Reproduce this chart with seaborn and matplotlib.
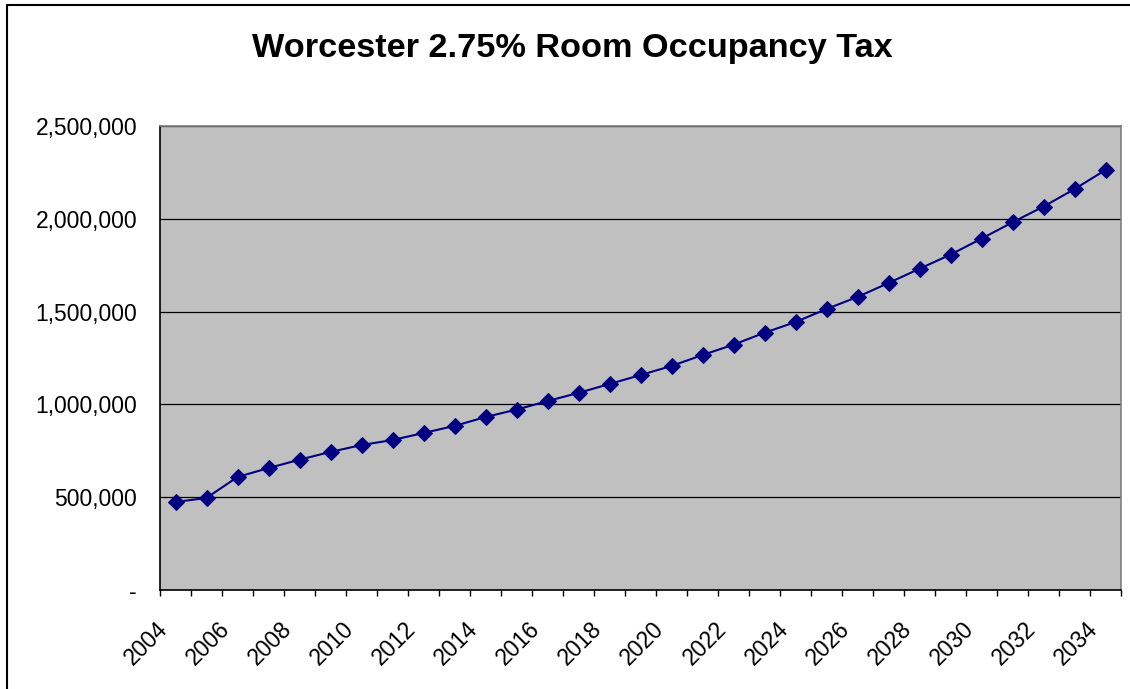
import matplotlib
matplotlib.use('Agg')
import matplotlib.pyplot as plt
import matplotlib.transforms as mtransforms
from matplotlib.ticker import FuncFormatter, MultipleLocator
from matplotlib.patches import Rectangle
import seaborn as sns
import pandas as pd

# Data
years = list(range(2004, 2035))
revenue = [474000, 496000, 609000, 657000, 702000, 744000, 781000, 808000,
           846000, 884000, 932000, 972000, 1018000, 1062000, 1110000, 1158000,
           1207000, 1266000, 1322000, 1386000, 1444000, 1514000, 1579000,
           1654000, 1731000, 1807000, 1893000, 1981000, 2066000, 2160000,
           2263000]
year_labels = [str(y) for y in years if y % 2 == 0]

df = pd.DataFrame({'year': years, 'revenue': revenue})

sns.set_style('white')
plt.rcParams['font.family'] = ['Liberation Sans', 'DejaVu Sans']
plt.rcParams['text.color'] = 'black'
plt.rcParams['xtick.color'] = 'black'
plt.rcParams['ytick.color'] = 'black'

W, H = 1130, 689
fig = plt.figure(figsize=(W / 100, H / 100), dpi=100)
# plot area in pixels: left 160, right 1121, top 126, bottom 590
ax = fig.add_axes([160 / W, 1 - 590 / H, (1121 - 160) / W, (590 - 126) / H])
ax.set_facecolor('#C0C0C0')

sns.lineplot(data=df, x='year', y='revenue', ax=ax, color='#000080',
             marker='D', markersize=8, markeredgecolor='#000080',
             linewidth=1.5, zorder=3)

ax.set_xlim(2003.5, 2034.5)
ax.set_ylim(0, 2500000)

# horizontal gridlines
ax.yaxis.set_major_locator(MultipleLocator(500000))
ax.grid(axis='y', color='black', linewidth=0.9)
ax.grid(axis='x', visible=False)
ax.set_axisbelow(True)

def fmt(v, pos):
    return '-' if v == 0 else f'{int(v):,}'
ax.yaxis.set_major_formatter(FuncFormatter(fmt))
ax.tick_params(axis='y', direction='out', length=4.5, width=1, color='black',
               labelsize=16.5, pad=12)

# year labels at even years, tick marks at category boundaries
ax.set_xticks([int(l) for l in year_labels])
ax.set_xticklabels(year_labels, rotation=45, ha='right', rotation_mode='anchor')
ax.set_xticks([y - 0.5 for y in years] + [2034.5], minor=True)
ax.tick_params(axis='x', which='major', length=0, labelsize=16.5, pad=20)
ax.tick_params(axis='x', which='minor', direction='out', length=4.5, width=1,
               color='black', bottom=True)
shift = mtransforms.ScaledTranslation(-19 / 100, 0, fig.dpi_scale_trans)
for lab in ax.get_xticklabels():
    lab.set_transform(lab.get_transform() + shift)

for side in ['left', 'bottom']:
    ax.spines[side].set_color('black')
    ax.spines[side].set_linewidth(1.2)
for side in ['top', 'right']:
    ax.spines[side].set_color('#808080')
    ax.spines[side].set_linewidth(1.2)

ax.set_xlabel('')
ax.set_ylabel('')

fig.text(572 / W, 1 - 57 / H, 'Worcester 2.75% Room Occupancy Tax', ha='center',
         va='baseline', fontsize=24.7, fontweight='bold')

# chart border (only left and top edges fall inside the image)
fig.patches.append(Rectangle((6.5 / W, -0.05), 1.2, 1.05 - 4.5 / H,
                             transform=fig.transFigure, fill=False,
                             edgecolor='black', linewidth=1.5))

fig.savefig('out.png', dpi=100)
